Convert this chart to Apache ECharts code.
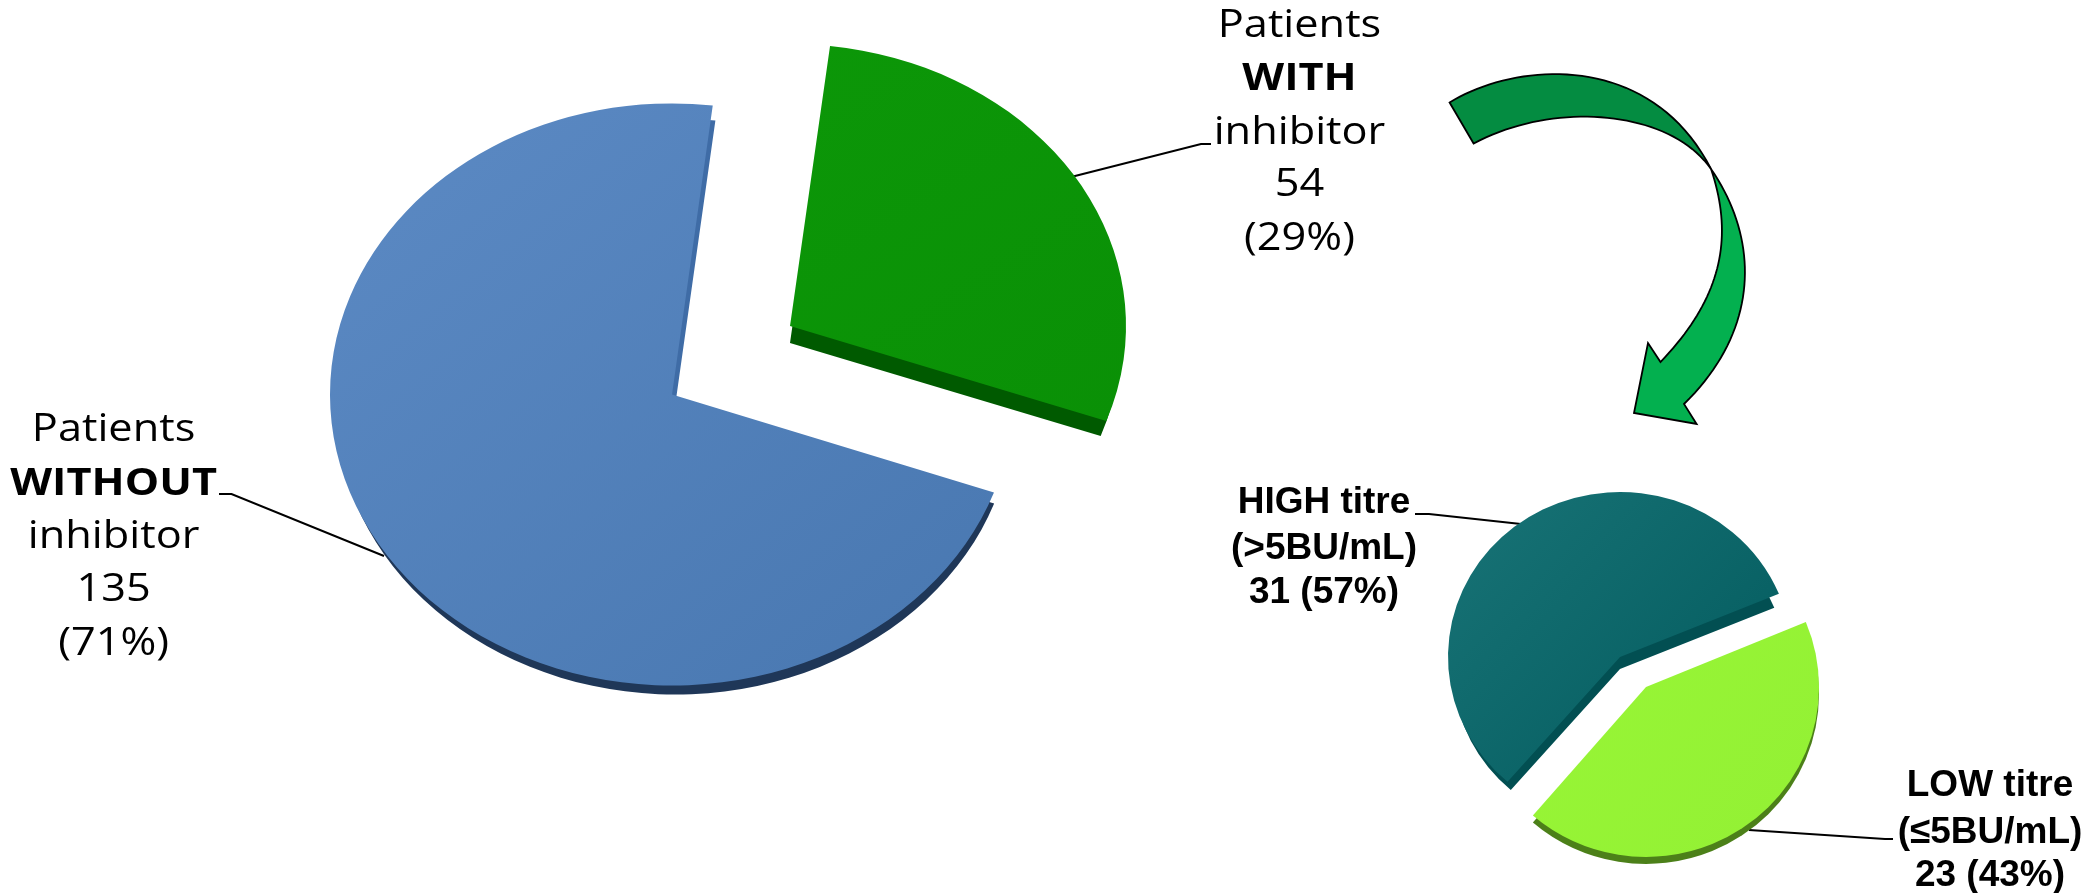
<!DOCTYPE html>
<html>
<head>
<meta charset="utf-8">
<style>html,body{margin:0;padding:0;background:#fff}#c{width:2093px;height:893px}</style>
<script src="https://cdn.jsdelivr.net/npm/echarts@6/dist/echarts.min.js"></script>
</head>
<body>
<div id="c"></div>
<script>
// ---- data ----
const mainCategories = ['WITHOUT', 'WITH'];
const mainValues = [135, 54];
const mainPercents = [71, 29];
const subCategories = ['LOW titre', 'HIGH titre'];
const subThresholds = ['(\u22645BU/mL)', '(>5BU/mL)'];
const subValues = [23, 31];
const subPercents = [43, 57];

// ---- layout / style (not data) ----
const mainStart = 109.7, subStart = 67.5;   // degrees clockwise from 12 o'clock
const mainGeom = [
  {cx:672, cy:394.5, rx:342, ry:291, dx:3, dy:12, inset:3, face:['#5c8ac4','#4877b0'],
   wall:[[0,'#3f6ca6'],[0.62,'#3f6ca6'],[0.66,'#1f3758'],[1,'#1f3758']]},
  {cx:790, cy:326, rx:336, ry:282, dx:0, dy:17, inset:6, face:['#0c9708','#0a9006'],
   wall:[[0,'#005a00'],[1,'#005a00']]}
];
const subGeom = [
  {cx:1646, cy:687, rx:173, ry:170, dx:0, dy:7, inset:0, face:['#98f636','#93f034'],
   wall:[[0,'#4c8019'],[1,'#4c8019']]},
  {cx:1620, cy:657, rx:172, ry:165, dx:0, dy:12, inset:5, face:['#187376','#025a5d'],
   wall:[[0,'#024f52'],[1,'#024f52']]}
];

const grad = (x2, y2, stops) => new echarts.graphic.LinearGradient(0, 0, x2, y2,
  stops.map(s => ({offset: s[0], color: s[1]})));

function pieSeries(values, geom, start) {
  const total = values.reduce((a, b) => a + b, 0);
  return {
    type: 'custom',
    coordinateSystem: 'none',
    silent: true,
    animation: false,
    data: values.map(v => [v]),
    renderItem(params, api) {
      let before = 0;
      for (let i = 0; i < params.dataIndex; i++) before += values[i];
      const a0 = (start + before / total * 360 - 90) * Math.PI / 180;
      const a1 = (start + (before + api.value(0)) / total * 360 - 90) * Math.PI / 180;
      const g = geom[params.dataIndex];
      const sector = (x, y, r, sy, style, z2) => ({
        type: 'sector', x, y, scaleY: sy, z2,
        shape: {cx: 0, cy: 0, r, r0: 0, startAngle: a0, endAngle: a1, clockwise: true},
        style
      });
      return {
        type: 'group',
        children: [
          sector(g.cx + g.dx, g.cy + g.dy, g.rx - g.inset, (g.ry - g.inset) / (g.rx - g.inset),
            {fill: grad(0, 1, g.wall)}, 1),
          sector(g.cx, g.cy, g.rx, g.ry / g.rx,
            {fill: grad(1, 1, [[0, g.face[0]], [1, g.face[1]]])}, 2)
        ]
      };
    }
  };
}

function bez(p0, c1, c2, p3, n) {
  const pts = [];
  for (let i = 0; i <= n; i++) {
    const t = i / n, u = 1 - t;
    pts.push([
      u*u*u*p0[0] + 3*u*u*t*c1[0] + 3*u*t*t*c2[0] + t*t*t*p3[0],
      u*u*u*p0[1] + 3*u*u*t*c1[1] + 3*u*t*t*c2[1] + t*t*t*p3[1]
    ]);
  }
  return pts;
}
const arrowStroke = {stroke: '#000', lineWidth: 1.8, lineJoin: 'miter'};
const arrowTop = bez([1449.6,102.5],[1515,62],[1650,50],[1711,169],40)
  .concat(bez([1711,169],[1670,110],[1555,100],[1473.6,143.5],40));
const arrowBottom = bez([1711,169],[1760,240],[1760,330],[1684,404],40)
  .concat([[1696.6,424],[1634,413],[1648,343]], [[1660.5,362]])
  .concat(bez([1660.5,362],[1720,300],[1735,240],[1711,169],40));

const leaders = [
  [[219,494],[231.5,494],[384,556]],
  [[1073,176.5],[1201,144],[1211,144]],
  [[1415,514],[1429,514],[1521,524]],
  [[1749,830],[1885,839],[1893,839]]
];

const F1 = '"Open Sans", sans-serif', F2 = '"Liberation Sans", Arial, sans-serif';
function lines(x, ys, strs, font, size, boldIdx, sx) {
  return strs.map((s, i) => ({
    type: 'text', x, y: ys[i], scaleX: sx, silent: true,
    style: {
      text: s, x: 0, y: 0, textAlign: 'center', textVerticalAlign: 'middle',
      fontFamily: font, fontSize: size, fontWeight: (boldIdx === true || boldIdx === i) ? 'bold' : 'normal', fill: '#000'
    }
  }));
}
const texts = [].concat(
  lines(113.6, [430,484,537,590,644],
    ['Patients', mainCategories[0], 'inhibitor', String(mainValues[0]), '(' + mainPercents[0] + '%)'], F1, 38, 1, 1.14),
  lines(1299.5, [26,79,133,185,239],
    ['Patients', mainCategories[1], 'inhibitor', String(mainValues[1]), '(' + mainPercents[1] + '%)'], F1, 38, 1, 1.14),
  lines(1324, [503,549,593],
    [subCategories[1], subThresholds[1], subValues[1] + ' (' + subPercents[1] + '%)'], F2, 37, true, 1),
  lines(1990, [786,833,876],
    [subCategories[0], subThresholds[0], subValues[0] + ' (' + subPercents[0] + '%)'], F2, 37, true, 1)
);

const chart = echarts.init(document.getElementById('c'), null, {renderer: 'canvas'});
chart.setOption({
  backgroundColor: '#fff',
  animation: false,
  series: [pieSeries(mainValues, mainGeom, mainStart), pieSeries(subValues, subGeom, subStart)],
  graphic: {elements: [
    {type: 'polygon', silent: true, shape: {points: arrowTop}, style: Object.assign({fill: '#048c41'}, arrowStroke)},
    {type: 'polygon', silent: true, shape: {points: arrowBottom}, style: Object.assign({fill: '#03b04f'}, arrowStroke)}
  ].concat(leaders.map(p => ({
    type: 'polyline', silent: true, shape: {points: p}, style: {stroke: '#000', lineWidth: 2, fill: null}
  }))).concat(texts)}
});
</script>
</body>
</html>
